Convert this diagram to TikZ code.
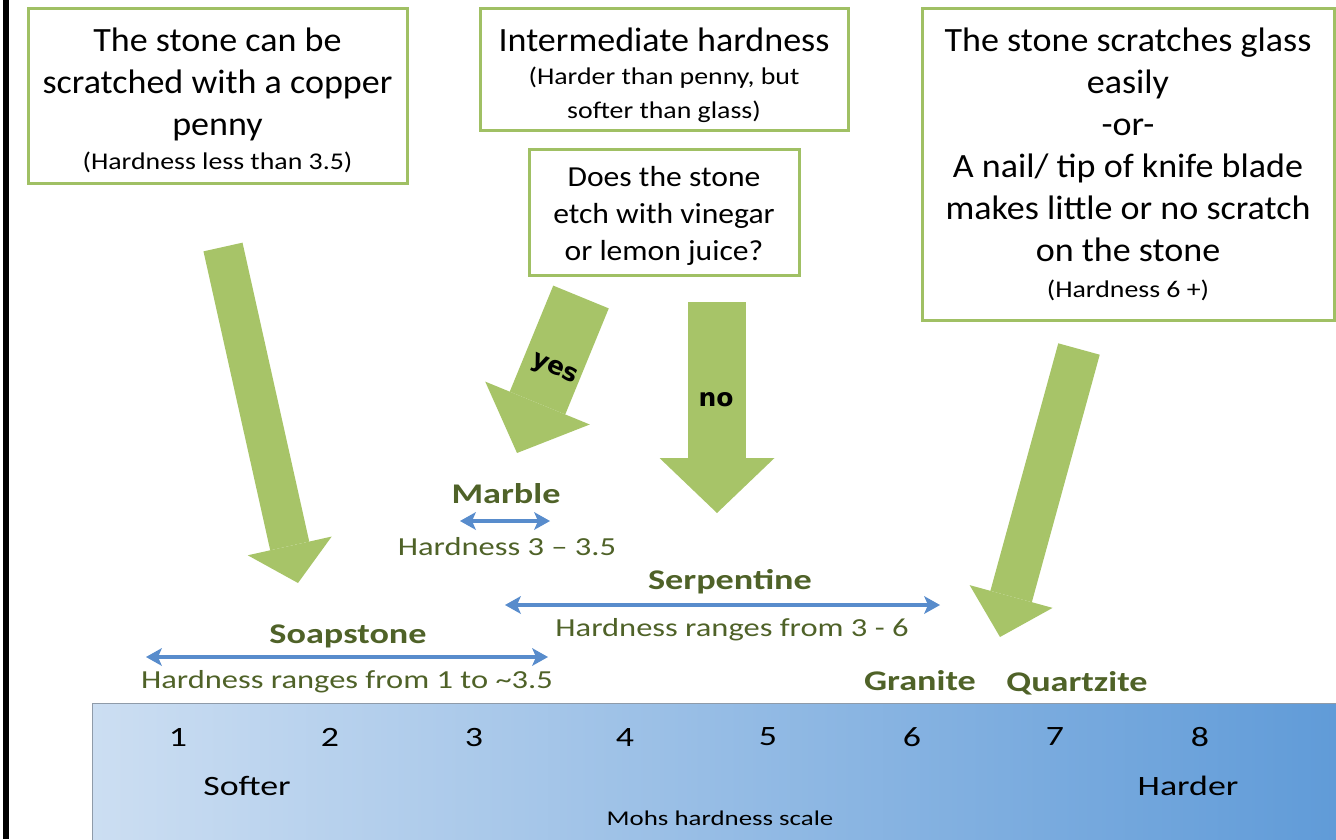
\documentclass[tikz,border=0pt]{standalone}
\usepackage{fontspec}
\setmainfont{Carlito}
\newfontfamily\boxfont[FakeStretch=1.06]{Carlito}
\newfontfamily\subfont[FakeStretch=1.16]{Carlito}
\newfontfamily\askfont[FakeStretch=1.09]{Carlito}
\newfontfamily\stonefont[FakeStretch=1.27]{Carlito}
\newfontfamily\hardfont[FakeStretch=1.25]{Carlito}
\newfontfamily\mohsfont[FakeStretch=1.28]{Carlito}
\newfontfamily\yesnofont{DejaVu Sans}
\usepackage{tikz}
\usetikzlibrary{arrows.meta}
\usetikzlibrary{positioning}
\usepackage{xcolor}
\definecolor{boxgreen}{RGB}{160,192,100}
\definecolor{arrowgreen}{RGB}{167,196,104}
\definecolor{stonegreen}{RGB}{79,98,40}
\definecolor{rangeblue}{RGB}{88,140,204}
\definecolor{scaleleft}{RGB}{204,222,242}
\definecolor{scaleright}{RGB}{96,155,216}
\newcommand{\subtxt}{\subfont\fontsize{24}{30}\selectfont}
\newcommand{\topgap}[1]{\rule{0pt}{#1}}

\begin{document}
\begin{tikzpicture}[x=1pt,y=-1pt]
  \tikzstyle{every node}=[text=black,inner sep=0pt]
  \tikzstyle{testbox}=[draw=boxgreen,line width=3pt,fill=white,align=center,font=\boxfont\fontsize{34}{42}\selectfont]
  \tikzstyle{bigarrow}=[draw=arrowgreen,line width=40pt,-{Triangle[length=38pt,width=86pt,line width=0pt]}]
  \tikzstyle{rangearrow}=[draw=rangeblue,line width=4pt,{Stealth[length=16pt,width=18pt,inset=4pt,line width=0pt]}-{Stealth[length=16pt,width=18pt,inset=4pt,line width=0pt]}]
  \tikzstyle{stone}=[text=stonegreen,font=\stonefont\bfseries\fontsize{28.5}{34}\selectfont]
  \tikzstyle{hard}=[text=stonegreen,font=\hardfont\fontsize{26}{32}\selectfont]
  \tikzstyle{ticknum}=[font=\mohsfont\fontsize{28}{34}\selectfont]
  \tikzstyle{yesno}=[font=\yesnofont\bfseries\fontsize{25}{30}\selectfont]

  \useasboundingbox (0,0) rectangle (1336,839);
  \fill[black] (3,0) rectangle (9,839);

  \node [left color=scaleleft,right color=scaleright,draw=scaleleft!70!black,line width=1pt,
         minimum width=1246pt,minimum height=138pt] (scale) at (715,772) {};

  \node [testbox,minimum width=379pt,minimum height=175pt] (penny) at (217.5,95.5)
        {\topgap{34pt}The stone can be\\scratched with a copper\\penny\\[-8pt]{\subtxt (Hardness less than 3.5)}};
  \node [testbox,minimum width=368pt,minimum height=122pt] (inter) at (664,69)
        {\topgap{37pt}Intermediate hardness\\[-9pt]{\subtxt (Harder than penny, but}\\[-8pt]{\subtxt softer than glass)}};
  \node [testbox,minimum width=270pt,minimum height=126pt,font=\askfont\fontsize{29}{37}\selectfont] (vinegar) [below=16pt of inter]
        {\topgap{28pt}Does the stone\\etch with vinegar\\or lemon juice?};
  \node [testbox,minimum width=412pt,minimum height=312pt] (glass) at (1128,164)
        {The stone scratches glass\\easily\\-or-\\A nail/ tip of knife blade\\makes little or no scratch\\on the stone\\[-6pt]{\subtxt (Hardness 6 +)}};

  \coordinate (pennyend) at (223,247);
  \coordinate (pennytip) at (298,583);
  \coordinate (yesend) at (581,297);
  \coordinate (yestip) at (517,453);
  \coordinate (noend) at (717,302);
  \coordinate (notip) at (717,513);
  \coordinate (glassend) at (1079,349);
  \coordinate (glasstip) at (1000,637);

  \draw [bigarrow] (pennyend) -- (pennytip);
  \draw [bigarrow,line width=60pt,-{Triangle[length=54pt,width=113pt,line width=0pt]}] (yesend) -- (yestip);
  \draw [bigarrow,line width=58pt,-{Triangle[length=55pt,width=115pt,line width=0pt]}] (noend) -- (notip);
  \draw [bigarrow,line width=43pt,-{Triangle[length=42pt,width=86pt,line width=0pt]}] (glassend) -- (glasstip);

  \node [yesno,rotate=-24] (yes) at (554,370) {yes};
  \node [yesno] (no) at (716,400) {no};

  \node [stone] (marble) at (506,494) {Marble};
  \node [hard] (marbleh) at (507,547) {Hardness 3 \textendash{} 3.5};
  \coordinate (marblel) at (460,521);
  \coordinate (marbler) at (550,521);
  \draw [rangearrow] (marblel) -- (marbler);

  \node [stone] (serp) at (730,582) {Serpentine};
  \node [hard] (serph) at (732,630) {Hardness ranges from 3 - 6};
  \coordinate (serpl) at (505,605);
  \coordinate (serpr) at (940,605);
  \draw [rangearrow] (serpl) -- (serpr);

  \node [stone] (soap) at (348,636) {Soapstone};
  \node [hard] (soaph) at (347,682) {Hardness ranges from 1 to \textasciitilde3.5};
  \coordinate (soapl) at (146,657);
  \coordinate (soapr) at (548,657);
  \draw [rangearrow] (soapl) -- (soapr);

  \node [stone] (granite) at (920,681) {Granite};
  \node [stone] (quartz) at (1077,683) {Quartzite};

  \foreach \n/\x in {1/178,2/330,3/474,4/625,5/768,6/912,7/1055,8/1200}
    \node [ticknum] (n\n) at (\x,737) {\n};
  \node [ticknum] (softer) at (247,786) {Softer};
  \node [ticknum] (harder) at (1188,786) {Harder};
  \node [font=\mohsfont\fontsize{21}{26}\selectfont] (mohs) at (720,818) {Mohs hardness scale};
\end{tikzpicture}
\end{document}
